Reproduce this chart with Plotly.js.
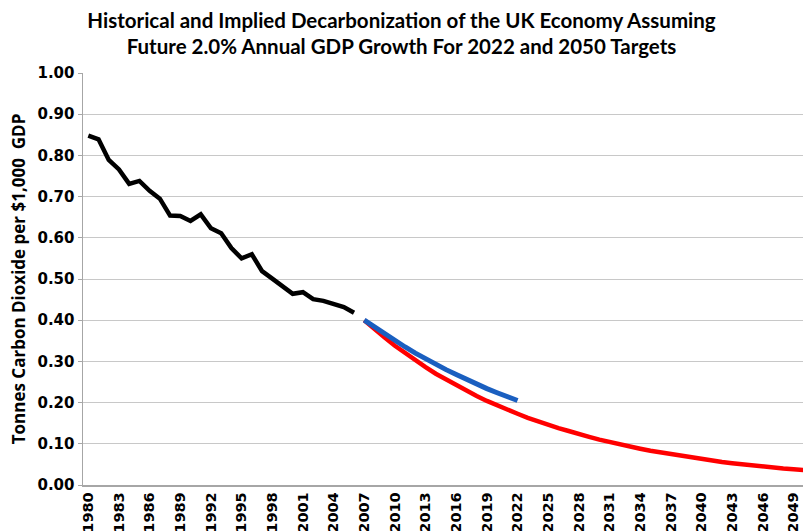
<!DOCTYPE html>
<html>
<head>
<meta charset="utf-8">
<script src="https://cdn.plot.ly/plotly-3.0.1.min.js"></script>
<style>html,body{margin:0;padding:0;background:#fff;}#chart{width:803px;height:531px;}</style>
</head>
<body>
<div id="chart"></div>
<script>
// Historical decarbonization (tonnes CO2 per $1,000 GDP)
const histYears = [1980,1981,1982,1983,1984,1985,1986,1987,1988,1989,1990,1991,1992,1993,1994,1995,1996,1997,1998,1999,2000,2001,2002,2003,2004,2005,2006];
const histValues = [0.848,0.839,0.789,0.766,0.731,0.738,0.714,0.695,0.654,0.653,0.641,0.657,0.623,0.611,0.575,0.550,0.560,0.519,0.501,0.483,0.464,0.468,0.451,0.447,0.439,0.432,0.418];

// Implied path for 2022 target
const target2022Years = [2007,2008,2009,2010,2011,2012,2013,2014,2015,2016,2017,2018,2019,2020,2021,2022];
const target2022Values = [0.400,0.383,0.366,0.350,0.335,0.320,0.306,0.293,0.280,0.268,0.256,0.245,0.234,0.224,0.214,0.205];

// Implied path for 2050 target
const target2050Years = [2007,2008,2009,2010,2011,2012,2013,2014,2015,2016,2017,2018,2019,2020,2021,2022,2023,2024,2025,2026,2027,2028,2029,2030,2031,2032,2033,2034,2035,2036,2037,2038,2039,2040,2041,2042,2043,2044,2045,2046,2047,2048,2049,2050];
const target2050Values = [0.400,0.378,0.358,0.338,0.320,0.302,0.286,0.270,0.256,0.242,0.228,0.216,0.204,0.193,0.183,0.173,0.163,0.154,0.146,0.138,0.131,0.123,0.117,0.110,0.104,0.099,0.093,0.088,0.083,0.079,0.075,0.070,0.067,0.063,0.060,0.056,0.053,0.050,0.048,0.045,0.043,0.040,0.038,0.036];

const tickYears = [1980,1983,1986,1989,1992,1995,1998,2001,2004,2007,2010,2013,2016,2019,2022,2025,2028,2031,2034,2037,2040,2043,2046,2049];
const yTicks = [0,0.1,0.2,0.3,0.4,0.5,0.6,0.7,0.8,0.9,1.0];

const traces = [
  {x: target2050Years, y: target2050Values, type: 'scatter', mode: 'lines', line: {color: '#ff0000', width: 4.5}, name: '2050 Target'},
  {x: target2022Years, y: target2022Values, type: 'scatter', mode: 'lines', line: {color: '#1a5fc0', width: 5}, name: '2022 Target'},
  {x: histYears, y: histValues, type: 'scatter', mode: 'lines', line: {color: '#000000', width: 4.5}, name: 'Historical'}
];

const layout = {
  width: 803, height: 531,
  margin: {l: 83, r: 0, t: 73, b: 46},
  paper_bgcolor: '#ffffff', plot_bgcolor: '#ffffff',
  showlegend: false,
  title: {
    text: 'Historical and Implied Decarbonization of the UK Economy Assuming<br>Future 2.0% Annual GDP Growth For 2022 and 2050 Targets',
    font: {family: 'Lato, "Open Sans", sans-serif', size: 20.5, color: '#000', weight: 'bold'},
    x: 0.5, xref: 'container', xanchor: 'center',
    y: 0.948, yref: 'container', yanchor: 'top'
  },
  xaxis: {
    range: [1979.48, 2049.93],
    tickmode: 'array', tickvals: tickYears, ticktext: tickYears.map(String),
    tickangle: -90,
    tickfont: {family: '"DejaVu Sans", Verdana, sans-serif', size: 14.5, color: '#000', weight: 'bold'},
    showgrid: false, zeroline: false,
    showline: true, linecolor: '#a6a6a6', linewidth: 1.5,
    ticks: '', automargin: false
  },
  yaxis: {
    range: [0, 1.0], tickmode: 'array', tickvals: yTicks,
    tickformat: '.2f',
    tickfont: {family: '"DejaVu Sans", Verdana, sans-serif', size: 15, color: '#000', weight: 'bold'},
    showgrid: true, gridcolor: '#c8c8c8', gridwidth: 1,
    zeroline: false, showline: true, linecolor: '#a6a6a6', linewidth: 1.5,
    ticks: 'outside', ticklen: 4, tickcolor: '#a6a6a6',
    automargin: false,
    title: {text: 'Tonnes Carbon Dioxide per $1,000  GDP', font: {family: '"Open Sans", Lato, sans-serif', size: 17, color: '#000', weight: 'bold'}, standoff: 7}
  }
};

Plotly.newPlot('chart', traces, layout, {displayModeBar: false, staticPlot: true});
</script>
</body>
</html>
